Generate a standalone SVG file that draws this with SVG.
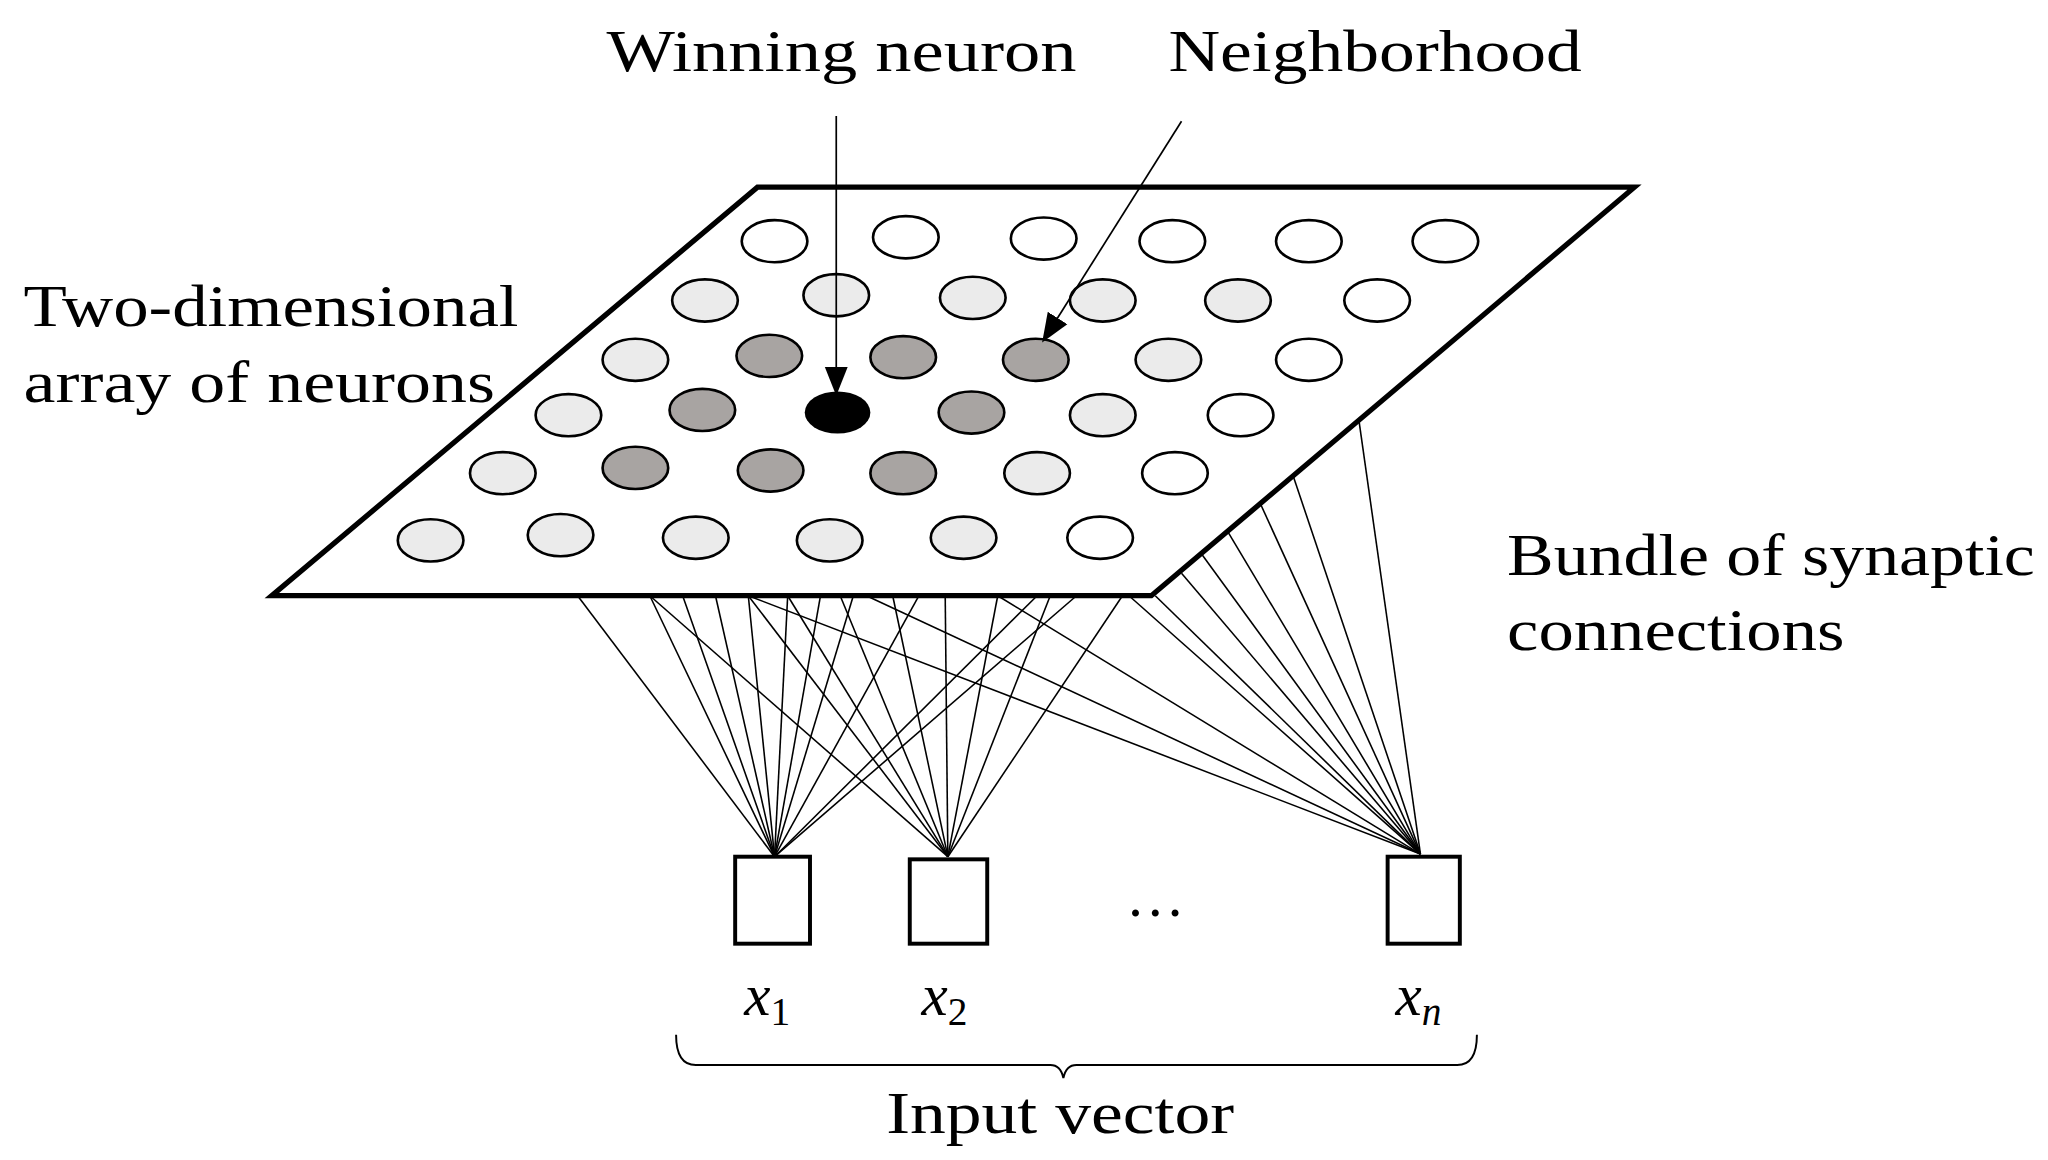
<svg xmlns="http://www.w3.org/2000/svg" width="2048" height="1160" viewBox="0 0 2048 1160">
<style>
.t{font-family:"Liberation Serif","DejaVu Serif",serif;font-size:45px;fill:#000}
.w{fill:#fff;stroke:#000;stroke-width:2}
.l{fill:#ebebeb;stroke:#000;stroke-width:2}
.g{fill:#a8a4a2;stroke:#000;stroke-width:2}
.c line{stroke:#000;stroke-width:1.2}
</style>
<defs>
<marker id="b" viewBox="0 0 10 10" refX="9" refY="5" markerWidth="22" markerHeight="22" orient="auto" markerUnits="userSpaceOnUse"><path d="M0,1L10,5L0,9z"/></marker></defs>
<rect width="2048" height="1160" fill="#fff"/>
<g transform="scale(1.3128,1.318)">
<g id="connectors" class="c">
<line x1="440" y1="452" x2="590" y2="650"/><line x1="495" y1="452" x2="590" y2="650"/><line x1="520" y1="452" x2="590" y2="650"/><line x1="545" y1="452" x2="590" y2="650"/><line x1="570" y1="452" x2="590" y2="650"/><line x1="600" y1="452" x2="590" y2="650"/><line x1="625" y1="452" x2="590" y2="650"/><line x1="650" y1="452" x2="590" y2="650"/><line x1="700" y1="452" x2="590" y2="650"/><line x1="790" y1="452" x2="590" y2="650"/><line x1="820" y1="452" x2="590" y2="650"/>
<line x1="495" y1="452" x2="722" y2="650"/><line x1="570" y1="452" x2="722" y2="650"/><line x1="600" y1="452" x2="722" y2="650"/><line x1="640" y1="452" x2="722" y2="650"/><line x1="680" y1="452" x2="722" y2="650"/><line x1="720" y1="452" x2="722" y2="650"/><line x1="760" y1="452" x2="722" y2="650"/><line x1="800" y1="452" x2="722" y2="650"/><line x1="855" y1="452" x2="722" y2="650"/>
<line x1="570" y1="452" x2="1082" y2="648"/><line x1="660" y1="452" x2="1082" y2="648"/><line x1="760" y1="452" x2="1082" y2="648"/><line x1="860" y1="452" x2="1082" y2="648"/><line x1="880" y1="452" x2="1082" y2="648"/><line x1="900" y1="435" x2="1082" y2="648"/><line x1="915" y1="420" x2="1082" y2="648"/><line x1="935" y1="403" x2="1082" y2="648"/><line x1="960" y1="382" x2="1082" y2="648"/><line x1="985" y1="361" x2="1082" y2="648"/><line x1="1035" y1="318" x2="1082" y2="648"/>
</g>
<g id="grid">
<polygon points="577,142 1245,142 877,452 207,452" fill="#fff" stroke="#000" stroke-width="4"/>
<g id="neurons">
<ellipse class="w" cx="590" cy="183" rx="25" ry="16"/><ellipse class="w" cx="690" cy="180" rx="25" ry="16"/><ellipse class="w" cx="795" cy="181" rx="25" ry="16"/><ellipse class="w" cx="893" cy="183" rx="25" ry="16"/><ellipse class="w" cx="997" cy="183" rx="25" ry="16"/><ellipse class="w" cx="1101" cy="183" rx="25" ry="16"/>
<ellipse class="l" cx="537" cy="228" rx="25" ry="16"/><ellipse class="l" cx="637" cy="224" rx="25" ry="16"/><ellipse class="l" cx="741" cy="226" rx="25" ry="16"/><ellipse class="l" cx="840" cy="228" rx="25" ry="16"/><ellipse class="l" cx="943" cy="228" rx="25" ry="16"/><ellipse class="w" cx="1049" cy="228" rx="25" ry="16"/>
<ellipse class="l" cx="484" cy="273" rx="25" ry="16"/><ellipse class="g" cx="586" cy="270" rx="25" ry="16"/><ellipse class="g" cx="688" cy="271" rx="25" ry="16"/><ellipse class="g" cx="789" cy="273" rx="25" ry="16"/><ellipse class="l" cx="890" cy="273" rx="25" ry="16"/><ellipse class="w" cx="997" cy="273" rx="25" ry="16"/>
<ellipse class="l" cx="433" cy="315" rx="25" ry="16"/><ellipse class="g" cx="535" cy="311" rx="25" ry="16"/><ellipse cx="638" cy="313" rx="25" ry="16" fill="#000"/><ellipse class="g" cx="740" cy="313" rx="25" ry="16"/><ellipse class="l" cx="840" cy="315" rx="25" ry="16"/><ellipse class="w" cx="945" cy="315" rx="25" ry="16"/>
<ellipse class="l" cx="383" cy="359" rx="25" ry="16"/><ellipse class="g" cx="484" cy="355" rx="25" ry="16"/><ellipse class="g" cx="587" cy="357" rx="25" ry="16"/><ellipse class="g" cx="688" cy="359" rx="25" ry="16"/><ellipse class="l" cx="790" cy="359" rx="25" ry="16"/><ellipse class="w" cx="895" cy="359" rx="25" ry="16"/>
<ellipse class="l" cx="328" cy="410" rx="25" ry="16"/><ellipse class="l" cx="427" cy="406" rx="25" ry="16"/><ellipse class="l" cx="530" cy="408" rx="25" ry="16"/><ellipse class="l" cx="632" cy="410" rx="25" ry="16"/><ellipse class="l" cx="734" cy="408" rx="25" ry="16"/><ellipse class="w" cx="838" cy="408" rx="25" ry="16"/>
</g>
</g>
<g id="arrows" stroke="#000" stroke-width="1.3">
<line x1="637" y1="88" x2="637" y2="298" marker-end="url(#b)"/>
<line x1="900" y1="92" x2="795" y2="258" marker-end="url(#b)"/>
</g>
<g id="labels">
<text class="t" x="462" y="54" textLength="358" lengthAdjust="spacingAndGlyphs">Winning neuron</text>
<text class="t" x="890" y="54" textLength="315" lengthAdjust="spacingAndGlyphs">Neighborhood</text>
<text class="t" x="18" y="247" textLength="377" lengthAdjust="spacingAndGlyphs">Two-dimensional</text>
<text class="t" x="18" y="305" textLength="359" lengthAdjust="spacingAndGlyphs">array of neurons</text>
<text class="t" x="1148" y="436" textLength="402" lengthAdjust="spacingAndGlyphs">Bundle of synaptic</text>
<text class="t" x="1148" y="493" textLength="257" lengthAdjust="spacingAndGlyphs">connections</text>
<text class="t" x="675" y="860" textLength="265" lengthAdjust="spacingAndGlyphs">Input vector</text>
<text class="t" x="880" y="695" text-anchor="middle">…</text>
</g>
<g id="x1"><rect x="560" y="650" width="57" height="66" fill="#fff" stroke="#000" stroke-width="3"/><text class="t" x="567" y="770" font-size="48" font-style="italic">x<tspan font-size="30" font-style="normal" dy="8">1</tspan></text></g>
<g id="x2"><rect x="693" y="652" width="59" height="64" fill="#fff" stroke="#000" stroke-width="3"/><text class="t" x="702" y="770" font-size="48" font-style="italic">x<tspan font-size="30" font-style="normal" dy="8">2</tspan></text></g>
<g id="xn"><rect x="1057" y="650" width="55" height="66" fill="#fff" stroke="#000" stroke-width="3"/><text class="t" x="1063" y="770" font-size="48" font-style="italic">x<tspan font-size="30" dy="8">n</tspan></text></g>
<path id="brace" d="M515,785 Q515,808 530,808 L800,808 Q808,808 810,818 Q812,808 820,808 L1110,808 Q1125,808 1125,785" fill="none" stroke="#000" stroke-width="1.5"/>
</g>
</svg>
